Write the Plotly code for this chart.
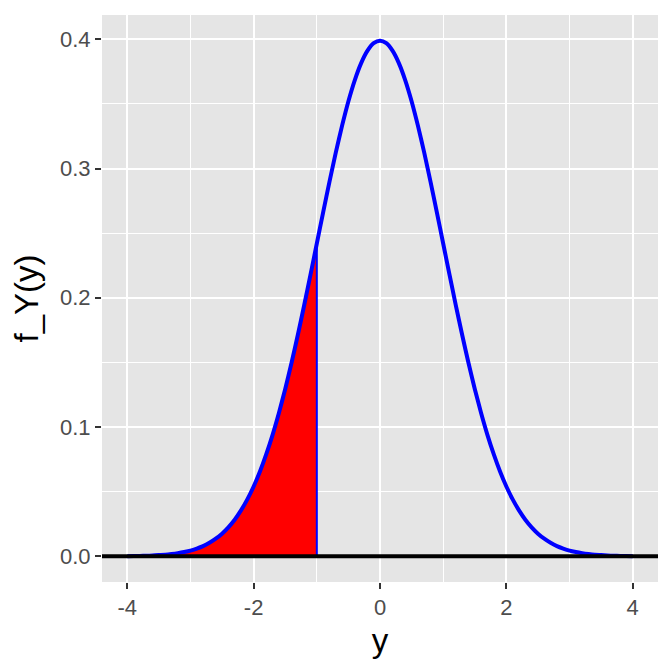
import plotly.graph_objects as go

# density values, y from -4 to 4 in steps of 0.1
y_vals = [-4.0, -3.9, -3.8, -3.7, -3.6, -3.5, -3.4, -3.3, -3.2, -3.1,
          -3.0, -2.9, -2.8, -2.7, -2.6, -2.5, -2.4, -2.3, -2.2, -2.1,
          -2.0, -1.9, -1.8, -1.7, -1.6, -1.5, -1.4, -1.3, -1.2, -1.1,
          -1.0, -0.9, -0.8, -0.7, -0.6, -0.5, -0.4, -0.3, -0.2, -0.1,
          0.0, 0.1, 0.2, 0.3, 0.4, 0.5, 0.6, 0.7, 0.8, 0.9,
          1.0, 1.1, 1.2, 1.3, 1.4, 1.5, 1.6, 1.7, 1.8, 1.9,
          2.0, 2.1, 2.2, 2.3, 2.4, 2.5, 2.6, 2.7, 2.8, 2.9,
          3.0, 3.1, 3.2, 3.3, 3.4, 3.5, 3.6, 3.7, 3.8, 3.9, 4.0]
density = [0.0001, 0.0002, 0.0003, 0.0004, 0.0006, 0.0009, 0.0012, 0.0017, 0.0024, 0.0033,
           0.0044, 0.0060, 0.0079, 0.0104, 0.0136, 0.0175, 0.0224, 0.0283, 0.0355, 0.0440,
           0.0540, 0.0656, 0.0790, 0.0940, 0.1109, 0.1295, 0.1497, 0.1714, 0.1942, 0.2179,
           0.2420, 0.2661, 0.2897, 0.3123, 0.3332, 0.3521, 0.3683, 0.3814, 0.3910, 0.3970,
           0.3989, 0.3970, 0.3910, 0.3814, 0.3683, 0.3521, 0.3332, 0.3123, 0.2897, 0.2661,
           0.2420, 0.2179, 0.1942, 0.1714, 0.1497, 0.1295, 0.1109, 0.0940, 0.0790, 0.0656,
           0.0540, 0.0440, 0.0355, 0.0283, 0.0224, 0.0175, 0.0136, 0.0104, 0.0079, 0.0060,
           0.0044, 0.0033, 0.0024, 0.0017, 0.0012, 0.0009, 0.0006, 0.0004, 0.0003, 0.0002, 0.0001]
cutoff = -1.0

x_ticks = [-4, -2, 0, 2, 4]
y_ticks = [0.0, 0.1, 0.2, 0.3, 0.4]

# shaded tail region closed down to zero
tail_x = [y_vals[0]] + [v for v in y_vals if v <= cutoff] + [cutoff]
tail_y = [0] + [d for v, d in zip(y_vals, density) if v <= cutoff] + [0]

fig = go.Figure()
fig.add_trace(go.Scatter(
    x=tail_x, y=tail_y, mode="lines", fill="toself",
    fillcolor="#FF0000", line=dict(color="#0000FF", width=2),
    hoverinfo="skip", showlegend=False,
))
fig.add_trace(go.Scatter(
    x=y_vals, y=density, mode="lines", line=dict(color="#0000FF", width=4, shape="spline", smoothing=0.6),
    showlegend=False,
))
fig.add_hline(y=0, line=dict(color="black", width=4))

tick_font = dict(family="Liberation Sans, Arial, sans-serif", size=22, color="#4D4D4D")
title_font = dict(family="Liberation Sans, Arial, sans-serif", size=33, color="black")

fig.update_xaxes(
    range=[-4.4, 4.4], tickvals=x_ticks, ticktext=[str(t) for t in x_ticks],
    showgrid=True, gridcolor="white", gridwidth=2.4, zeroline=False,
    ticks="outside", ticklen=6, tickwidth=2, tickcolor="#333333",
    tickfont=tick_font, title=dict(text="y", font=title_font, standoff=9),
    minor=dict(tickvals=[-3, -1, 1, 3], showgrid=True, gridcolor="white", gridwidth=1.2),
)
fig.update_yaxes(
    range=[-0.0199, 0.4188], tickvals=y_ticks, ticktext=[f"{t:.1f}" for t in y_ticks],
    showgrid=True, gridcolor="white", gridwidth=2.4, zeroline=False,
    ticks="outside", ticklen=6, tickwidth=2, tickcolor="#333333",
    tickfont=tick_font, title=dict(text="f_Y(y)", font=title_font, standoff=11),
    minor=dict(tickvals=[0.05, 0.15, 0.25, 0.35], showgrid=True, gridcolor="white", gridwidth=1.2),
)
fig.update_layout(
    width=672, height=672,
    margin=dict(l=94, r=22, t=7, b=98),
    plot_bgcolor="#E5E5E5", paper_bgcolor="white",
    showlegend=False,
)

fig.write_html("out.html")
